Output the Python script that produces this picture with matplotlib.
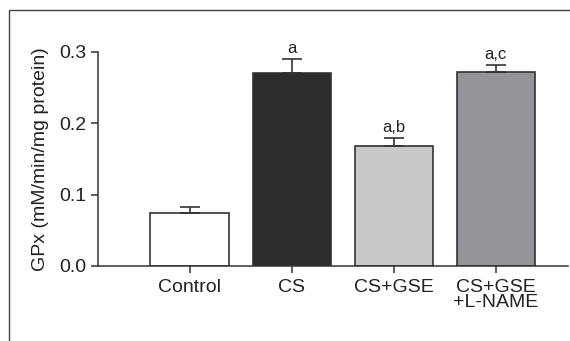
import matplotlib
matplotlib.use("Agg")
import matplotlib.pyplot as plt
from matplotlib.patches import Rectangle

plt.rcParams['font.family'] = ['Liberation Sans', 'DejaVu Sans']

# data
groups = ['Control', 'CS', 'CS+GSE', 'CS+GSE\n+L-NAME']
gpx = [0.075, 0.271, 0.168, 0.272]
sem = [0.008, 0.019, 0.012, 0.010]
letters = ['', 'a', 'a,b', 'a,c']
colors = ['#ffffff', '#2e2d2e', '#c8c9cb', '#939598']

fig = plt.figure(figsize=(5.7, 3.41), dpi=100)
ax = fig.add_axes([98 / 570, 1 - 266 / 341, 470 / 570, 214 / 341])

x = list(range(len(groups)))
ax.bar(x, gpx, width=0.765, color=colors, edgecolor='#333333', linewidth=1.2, zorder=2)
ax.errorbar(x, gpx, yerr=[[0] * len(sem), sem], fmt='none', ecolor='#333333',
            elinewidth=1.2, capsize=7, capthick=1.2, zorder=3, clip_on=False)

for xi, v, e, t in zip(x, gpx, sem, letters):
    if t:
        ax.text(xi, v + e + 0.004, t, ha='center', va='bottom', fontsize=12,
                color='#222222', clip_on=False)

ax.set_xlim(-0.897, 3.71)
ax.set_ylim(0, 0.3)
ax.set_yticks([0.0, 0.1, 0.2, 0.3])
ax.set_yticklabels(['0.0', '0.1', '0.2', '0.3'])
ax.set_xticks(x)
ax.set_xticklabels(groups, linespacing=0.85)
ax.tick_params(axis='both', direction='out', length=5, width=1.1, colors='#333333',
               labelsize=14, labelcolor='#222222')
ax.tick_params(axis='x', pad=4)
ax.set_ylabel('GPx (mM/min/mg protein)', fontsize=14, color='#222222', labelpad=7)

for s in ['top', 'right']:
    ax.spines[s].set_visible(False)
for s in ['left', 'bottom']:
    ax.spines[s].set_color('#333333')
    ax.spines[s].set_linewidth(1.1)

# outer frame, cut off at right and bottom edges
fig.patches.append(Rectangle((9 / 570, -0.1), 1.2, 1.1 - 10 / 341, transform=fig.transFigure,
                             fill=False, edgecolor='#444444', linewidth=1.0))

fig.savefig('out.png', dpi=100)
